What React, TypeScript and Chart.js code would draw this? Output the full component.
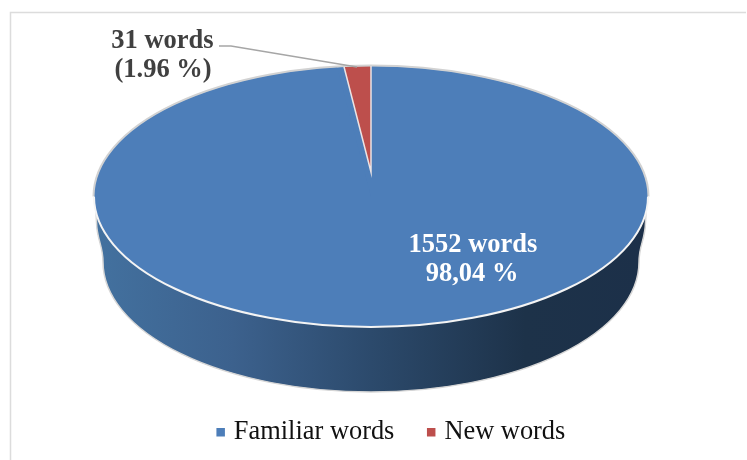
import React, { useEffect, useRef } from "react";
import { Chart, ArcElement, DoughnutController, Legend } from "chart.js";

Chart.register(ArcElement, DoughnutController, Legend);

const categories = ["Familiar words", "New words"];
const wordCounts = [1552, 31];
const seriesColors = ["#4d7eb9", "#bd4f4c"];
const sliceLabels = [
  ["1552 words", "98,04 %"],
  ["31 words", "(1.96 %)"],
];

const FONT = '"Liberation Serif", "Times New Roman", serif';

const pie3d = {
  id: "pie3d",
  beforeDraw(chart: any) {
    const { ctx } = chart;
    ctx.save();
    ctx.fillStyle = "#ffffff";
    ctx.fillRect(0, 0, chart.width, chart.height);
    ctx.strokeStyle = "#dcdcdc";
    ctx.lineWidth = 1.5;
    ctx.beginPath();
    ctx.moveTo(10.5, chart.height);
    ctx.lineTo(10.5, 12.5);
    ctx.lineTo(746, 12.5);
    ctx.stroke();
    ctx.restore();
  },
  beforeDatasetDraw(chart: any) {
    const { ctx } = chart;
    const [blue, red] = chart.getDatasetMeta(0).data;
    red.draw = () => {};

    // side wall
    ctx.save();
    const grad = ctx.createLinearGradient(96, 0, 646, 0);
    grad.addColorStop(0, "#43719f");
    grad.addColorStop(0.25, "#3c618d");
    grad.addColorStop(0.5, "#2c4a6c");
    grad.addColorStop(0.78, "#1d3249");
    grad.addColorStop(1, "#1c3049");
    ctx.beginPath();
    ctx.moveTo(95, 197);
    ctx.lineTo(96.5, 222);
    ctx.bezierCurveTo(96.8, 240, 103, 245, 103, 262);
    ctx.ellipse(371, 262, 268, 130, 0, Math.PI, 0, true);
    ctx.bezierCurveTo(639, 245, 645.2, 240, 645.5, 222);
    ctx.lineTo(647, 197);
    ctx.closePath();
    ctx.fillStyle = grad;
    ctx.fill();
    ctx.strokeStyle = "#d6d6d6";
    ctx.lineWidth = 1.5;
    ctx.stroke();

    // top surface underlay
    ctx.beginPath();
    ctx.ellipse(371, 196.5, 277, 130.5, 0, 0, Math.PI * 2);
    ctx.fillStyle = seriesColors[0];
    ctx.fill();
    ctx.restore();

    // projection of the library's circular arc onto the top surface
    const R = blue.outerRadius;
    ctx.save();
    ctx.translate(371, 196.5);
    ctx.scale(277 / R, 130.5 / R);
    ctx.translate(-blue.x, -blue.y);
  },
  afterDatasetDraw(chart: any) {
    const { ctx } = chart;
    ctx.restore();
    const [blue, red] = chart.getDatasetMeta(0).data;
    const R = blue.outerRadius;

    // the small slice has its own perspective apex
    ctx.save();
    ctx.translate(371, 172);
    ctx.scale(220 / R, 106 / R);
    ctx.translate(-red.x, -red.y);
    ArcElement.prototype.draw.call(red, ctx);
    ctx.restore();

    ctx.save();
    // rim
    ctx.lineWidth = 2;
    ctx.strokeStyle = "#d2d2d2";
    ctx.beginPath();
    ctx.ellipse(371, 196.5, 277.5, 131, 0, Math.PI, 0);
    ctx.stroke();
    ctx.strokeStyle = "#f4f4f4";
    ctx.beginPath();
    ctx.ellipse(371, 196.5, 277, 130.5, 0, 0, Math.PI);
    ctx.stroke();

    // slice separators
    const toX = (a: number) => 371 + Math.cos(a) * 220;
    const toY = (a: number) => 172 + Math.sin(a) * 106;
    ctx.lineWidth = 1.5;
    ctx.strokeStyle = "#ece4e4";
    ctx.beginPath();
    ctx.moveTo(toX(red.startAngle), toY(red.startAngle));
    ctx.lineTo(371, 172);
    ctx.lineTo(toX(red.endAngle), toY(red.endAngle));
    ctx.stroke();

    // leader line
    ctx.strokeStyle = "#a6a6a6";
    ctx.lineWidth = 1.5;
    ctx.beginPath();
    ctx.moveTo(219, 46);
    ctx.lineTo(231, 46);
    ctx.lineTo(357, 67);
    ctx.stroke();

    // data labels
    ctx.font = `bold 26.5px ${FONT}`;
    ctx.textAlign = "center";
    ctx.textBaseline = "middle";
    ctx.fillStyle = "#ffffff";
    ctx.fillText(sliceLabels[0][0], 473, 245);
    ctx.fillText(sliceLabels[0][1], 472, 274);
    ctx.fillStyle = "#404040";
    ctx.fillText(sliceLabels[1][0], 162.5, 41);
    ctx.fillText(sliceLabels[1][1], 163, 70);
    ctx.restore();
  },
};

export default function App() {
  const ref = useRef<HTMLCanvasElement | null>(null);
  useEffect(() => {
    const chart = new Chart(ref.current as HTMLCanvasElement, {
      type: "doughnut",
      data: {
        labels: categories,
        datasets: [
          {
            data: wordCounts,
            backgroundColor: seriesColors,
            borderWidth: 0,
          },
        ],
      },
      options: {
        responsive: false,
        animation: false,
        cutout: 0,
        layout: { padding: { left: 39, bottom: 4.5 } },
        plugins: {
          tooltip: { enabled: false },
          legend: {
            position: "bottom",
            labels: {
              usePointStyle: true,
              pointStyle: "rect",
              boxWidth: 0.01,
              boxHeight: 8.5,
              padding: 36.8,
              color: "#111111",
              font: { family: FONT, size: 26.4 },
            },
          },
        },
      },
      plugins: [pie3d],
    } as any);
    return () => chart.destroy();
  }, []);
  return (
    <div style={{ position: "absolute", left: 0, top: 0, width: 747, height: 460 }}>
      <canvas ref={ref} width={747} height={460} style={{ display: "block" }} />
    </div>
  );
}
